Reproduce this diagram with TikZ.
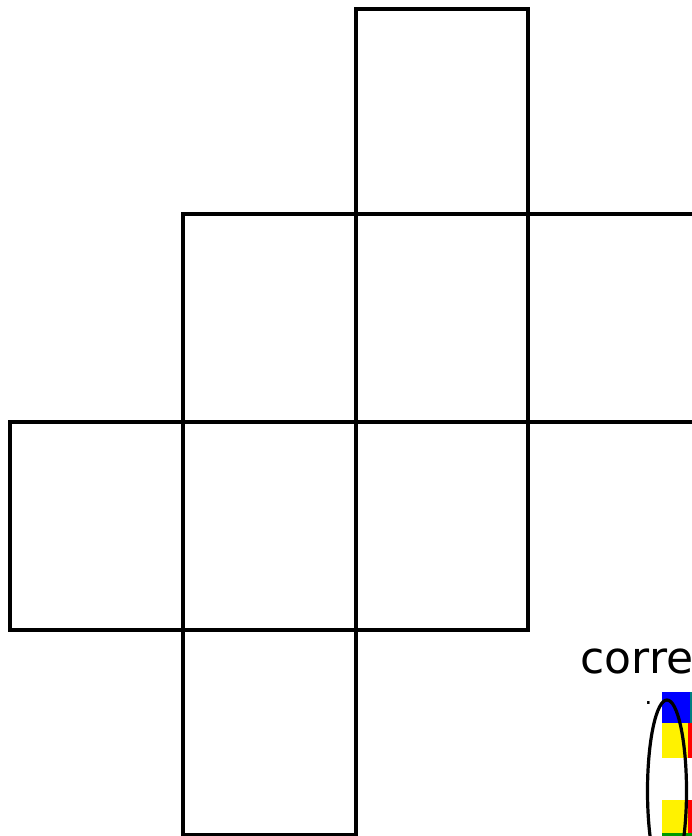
\documentclass[tikz,border=0pt]{standalone}
\usepackage{fontspec}
\setmainfont{DejaVu Sans}
\begin{document}
\begin{tikzpicture}[x=1pt,y=-1pt,
  cell/.style={draw=black,line width=3.2pt,line join=miter},
  lbl/.style={inner sep=0pt,font=\fontsize{44}{48}\selectfont}]
\clip (0,0) rectangle (692,836);
\fill[white] (0,0) rectangle (692,836);
% cells
\draw[cell] (356,9) rectangle (528,214);
\draw[cell] (183,214) rectangle (356,422);
\draw[cell] (356,214) rectangle (528,422);
\draw[cell] (528,214) rectangle (760,422);
\draw[cell] (10,422) rectangle (183,630);
\draw[cell] (183,422) rectangle (356,630);
\draw[cell] (356,422) rectangle (528,630);
\draw[cell] (183,630) rectangle (356,834.5);
% label
\node[lbl,anchor=base west] (t) at (580.5,673) {corre};
% coloured blocks
\fill[blue] (662,692) rectangle (690,723);
\fill[teal] (690,692) rectangle (692,723);
\fill[yellow] (662,723) rectangle (688,758);
\fill[red] (688,723) rectangle (692,758);
\fill[yellow] (662,800) rectangle (688,833);
\fill[red] (688,800) rectangle (692,833);
\fill[green!60!black] (662,833) rectangle (692,836);
\node[inner sep=0pt,font=\fontsize{24}{26}\selectfont,anchor=base] (d) at (648.5,704) {.};
\draw[line width=3.2pt] (667,791) ellipse [x radius=19.5, y radius=91];
\end{tikzpicture}
\end{document}
